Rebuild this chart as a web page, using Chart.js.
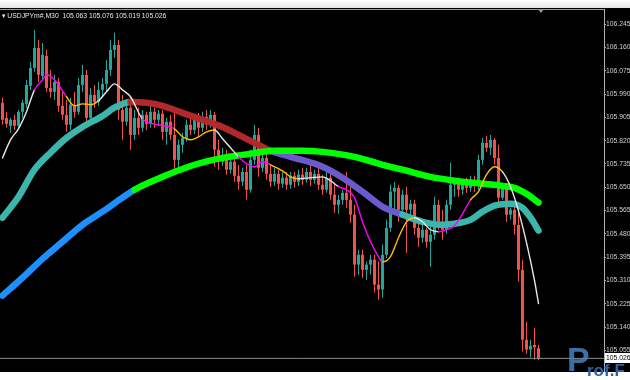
<!DOCTYPE html>
<html>
<head>
<meta charset="utf-8">
<script src="https://cdn.jsdelivr.net/npm/chart.js@4.4.0/dist/chart.umd.min.js"></script>
<style>
  html, body { margin:0; padding:0; background:#fff; }
  #wrap { position:relative; width:630px; height:380px; overflow:hidden; background:#fff; }
  #topbar { position:absolute; left:0; top:0; width:630px; height:8px; background:linear-gradient(#ffffff,#e4e4e4); }
  #black { position:absolute; left:0; top:8px; width:630px; height:364px; background:#000; }
  canvas { position:absolute; left:0; top:0; }
  #title { position:absolute; left:2px; top:12px; color:#e8e8e8; font:6.8px "Liberation Sans", "DejaVu Sans", sans-serif; white-space:pre; }
  #shift { position:absolute; left:538px; top:9px; width:0; height:0; border-left:3px solid transparent; border-right:3px solid transparent; border-top:4px solid #9a9a9a; }
  #wmP { position:absolute; left:567px; top:340px; color:rgba(70,130,195,0.85); font:bold 34px "Liberation Sans", sans-serif; }
  #wmT { position:absolute; left:587px; top:361px; color:#2d64a8; font:bold 17px "Liberation Sans", sans-serif; }
</style>
</head>
<body>
<div id="wrap">
  <div id="topbar"></div>
  <div id="black"></div>
  <canvas id="chart" width="630" height="380"></canvas>
  <div id="title">▾ USDJPYm#,M30  105.063 105.076 105.019 105.026</div>
  <div id="shift"></div>
  <div id="wmP">P</div>
  <div id="wmT">rof.F</div>
</div>
<script>
// M30 candles, oldest first
const opens = [105.958,105.903,105.874,105.896,105.874,105.925,105.954,106.020,106.085,106.158,
106.056,106.129,106.012,105.998,106.034,105.947,105.914,105.878,105.951,105.925,
106.023,106.060,105.903,105.987,105.961,106.005,106.027,106.078,106.151,106.169,
105.932,105.889,105.940,105.841,105.903,105.867,105.914,105.881,105.925,105.896,
105.918,105.852,105.889,105.841,105.750,105.805,105.830,105.878,105.859,105.896,
105.867,105.907,105.878,105.914,105.787,105.743,105.768,105.714,105.743,105.692,
105.670,105.706,105.641,105.750,105.841,105.721,105.757,105.699,105.670,105.699,
105.663,105.685,105.659,105.692,105.670,105.696,105.677,105.706,105.677,105.699,
105.659,105.641,105.685,105.623,105.586,105.604,105.630,105.604,105.550,105.368,
105.404,105.349,105.368,105.386,105.295,105.277,105.404,105.502,105.634,105.648,
105.568,105.623,105.568,105.590,105.502,105.466,105.495,105.451,105.477,105.586,
105.524,105.495,105.586,105.659,105.670,105.641,105.666,105.648,105.677,105.655,
105.750,105.812,105.794,105.823,105.757,105.612,105.648,105.550,105.568,105.513,
105.349,105.094,105.058,105.075,105.063];
const highs = [105.976,105.925,105.903,105.914,105.932,105.969,106.042,106.107,106.224,106.187,
106.176,106.151,106.078,106.060,106.049,105.998,105.969,105.976,105.998,106.049,
106.096,106.078,106.012,106.023,106.034,106.049,106.114,106.187,106.213,106.187,
105.987,105.969,105.976,105.932,105.940,105.932,105.925,105.951,105.940,105.932,
105.932,105.903,105.914,105.932,105.823,105.849,105.896,105.907,105.914,105.921,
105.925,105.932,105.932,105.925,105.823,105.794,105.787,105.757,105.757,105.732,
105.721,105.732,105.787,105.878,105.867,105.787,105.779,105.732,105.721,105.714,
105.706,105.706,105.706,105.706,105.714,105.721,105.721,105.732,105.714,105.725,
105.696,105.706,105.714,105.666,105.623,105.641,105.706,105.659,105.586,105.422,
105.422,105.379,105.404,105.404,105.379,105.441,105.532,105.659,105.670,105.659,
105.641,105.652,105.604,105.604,105.524,105.513,105.502,105.513,105.615,105.604,
105.568,105.604,105.739,105.685,105.685,105.677,105.685,105.692,105.692,105.768,
105.830,105.838,105.841,105.830,105.805,105.666,105.659,105.575,105.579,105.557,
105.386,105.160,105.094,105.138,105.076];
const lows = [105.878,105.867,105.849,105.859,105.867,105.903,105.940,106.005,106.071,106.034,
106.042,105.998,105.976,105.969,105.925,105.896,105.852,105.859,105.903,105.914,
105.998,105.878,105.881,105.940,105.947,105.976,105.998,106.056,106.122,105.896,
105.823,105.874,105.787,105.823,105.841,105.852,105.859,105.867,105.867,105.874,
105.823,105.805,105.823,105.703,105.721,105.776,105.816,105.841,105.845,105.834,
105.852,105.859,105.867,105.725,105.714,105.728,105.696,105.699,105.670,105.641,
105.655,105.604,105.630,105.732,105.688,105.706,105.677,105.652,105.655,105.641,
105.648,105.641,105.645,105.648,105.655,105.659,105.666,105.655,105.663,105.641,
105.623,105.630,105.604,105.557,105.553,105.586,105.575,105.521,105.324,105.331,
105.320,105.313,105.331,105.266,105.240,105.247,105.393,105.488,105.550,105.524,
105.553,105.411,105.539,105.477,105.433,105.448,105.430,105.360,105.459,105.495,
105.459,105.481,105.568,105.615,105.615,105.623,105.630,105.634,105.634,105.641,
105.732,105.779,105.768,105.732,105.586,105.604,105.524,105.532,105.477,105.306,
105.051,105.043,105.029,105.021,105.019];
const closes = [105.896,105.881,105.896,105.874,105.925,105.958,106.023,106.085,106.158,106.060,
106.133,106.012,105.998,106.034,105.947,105.914,105.878,105.951,105.925,106.023,
106.060,105.903,105.987,105.961,106.005,106.027,106.078,106.151,106.169,105.932,
105.889,105.940,105.841,105.903,105.867,105.914,105.881,105.925,105.896,105.918,
105.852,105.889,105.841,105.750,105.805,105.830,105.878,105.859,105.896,105.867,
105.907,105.878,105.914,105.787,105.743,105.768,105.714,105.743,105.692,105.670,
105.706,105.641,105.750,105.841,105.721,105.757,105.699,105.670,105.699,105.663,
105.685,105.659,105.692,105.670,105.696,105.677,105.706,105.677,105.699,105.659,
105.641,105.685,105.623,105.586,105.604,105.630,105.604,105.550,105.368,105.404,
105.349,105.368,105.386,105.295,105.277,105.404,105.502,105.634,105.648,105.568,
105.623,105.568,105.590,105.502,105.466,105.495,105.451,105.477,105.586,105.524,
105.495,105.586,105.659,105.670,105.641,105.666,105.648,105.677,105.655,105.750,
105.812,105.794,105.823,105.757,105.612,105.648,105.550,105.568,105.513,105.349,
105.094,105.058,105.072,105.066,105.026];

// moving averages at a few bars
const fastIdx = [0,2,4,6,8,10,11,13,16,18,20,22,24,26,28,30,32,35,39,43,45,47,49,51,53,55,57,59,61,63,65,67,70,72,74,77,80,82,84,86,88,90,92,94,95,97,99,101,103,105,107,109,111,113,115,117,119,121,123,125,127,129,131,133,134];
const fastVal = [105.757,105.823,105.863,105.925,106.005,106.042,106.060,106.042,105.980,105.947,105.954,105.951,105.965,105.998,106.027,106.005,105.980,105.899,105.878,105.863,105.834,105.823,105.834,105.852,105.859,105.827,105.794,105.761,105.736,105.725,105.743,105.732,105.710,105.688,105.681,105.685,105.688,105.674,105.652,105.641,105.612,105.524,105.451,105.397,105.378,105.397,105.466,105.524,105.539,105.524,105.495,105.488,105.495,105.510,105.553,105.604,105.634,105.696,105.725,105.706,105.652,105.564,105.448,105.310,105.226];
const midIdx = [0,4,8,12,16,20,25,28,32,36,40,45,50,55,60,65,67,72,80,85,90,95,100,105,110,113,117,120,123,127,130,132,134];
const midVal = [105.539,105.615,105.714,105.776,105.830,105.870,105.910,105.940,105.961,105.958,105.947,105.921,105.896,105.870,105.834,105.797,105.783,105.761,105.725,105.685,105.634,105.579,105.550,105.524,105.513,105.517,105.531,105.561,105.583,105.590,105.575,105.540,105.492];
const slowIdx = [0,5,10,15,20,25,30,33,40,48,55,60,68,75,80,88,95,100,107,113,120,125,128,131,134];
const slowVal = [105.255,105.320,105.389,105.451,105.513,105.561,105.612,105.641,105.688,105.732,105.757,105.768,105.783,105.783,105.779,105.761,105.732,105.714,105.688,105.674,105.663,105.655,105.648,105.626,105.594];

const bid = 105.026;
const tickValues = [106.245,106.160,106.075,105.990,105.905,105.820,105.735,105.650,105.565,105.480,105.395,105.310,105.225,105.140,105.055];

// colour changes along the averages: [from bar, colour]
const W = '#e6e6e6', M = '#ff00ff', Y = '#ffbf00';
const fastColors = [[0,W],[8,M],[16,Y],[24,W],[35,M],[43,Y],[53,W],[59,M],[67,Y],[74,W],[84,M],[95,Y],[103,W],[109,M],[117,Y],[125,W]];
const midColors = [[0,'#3cb6ac'],[32,'#b3292b'],[67,'#6a5acd'],[100,'#3cb6ac']];
const slowColors = [[0,'#1e8fff'],[33,'#00ff00']];

const bull = '#26a69a', bear = '#ef5350';

function pick(ranges, x) {
  let c = ranges[0][1];
  for (const r of ranges) if (x >= r[0]) c = r[1];
  return c;
}
const candleColor = ctx => closes[ctx.dataIndex] >= opens[ctx.dataIndex] ? bull : bear;

function maLine(idx, val, colors, width, order) {
  return {
    type: 'line',
    data: idx.map((x, k) => ({x: x, y: val[k]})),
    borderWidth: width,
    pointRadius: 0,
    cubicInterpolationMode: 'monotone',
    borderCapStyle: 'round',
    borderJoinStyle: 'round',
    segment: { borderColor: ctx => pick(colors, ctx.p0.parsed.x) },
    borderColor: colors[0][1],
    order: order
  };
}

const frame = {
  id: 'frame',
  beforeDatasetsDraw(chart) {
    const a = chart.chartArea, c = chart.ctx;
    c.save();
    c.strokeStyle = '#9a9a9a';
    c.lineWidth = 1;
    c.beginPath();
    c.moveTo(a.left, a.top + 0.5);
    c.lineTo(a.right, a.top + 0.5);
    c.stroke();
    c.restore();
  },
  afterDraw(chart) {
    const c = chart.ctx, y = Math.round(chart.scales.y.getPixelForValue(bid));
    const x = chart.chartArea.right + 1;
    c.save();
    c.fillStyle = '#ffffff';
    c.fillRect(x, y - 5, 26, 10);
    c.fillStyle = '#000000';
    c.font = '6.8px "Liberation Sans"';
    c.textBaseline = 'middle';
    c.fillText(bid.toFixed(3), x + 1, y + 0.5);
    c.restore();
  }
};

new Chart('chart', {
  type: 'bar',
  data: {
    datasets: [
      maLine(fastIdx, fastVal, fastColors, 1.4, 0),
      maLine(slowIdx, slowVal, slowColors, 6.5, 1),
      maLine(midIdx, midVal, midColors, 6.5, 2),
      {
        type: 'line',
        data: [{x: -1, y: bid}, {x: 151, y: bid}],
        borderColor: '#8a8a8a',
        borderWidth: 1,
        pointRadius: 0,
        order: 3
      },
      {
        data: opens.map((o, i) => ({x: i, y: [o, closes[i]]})),
        backgroundColor: candleColor,
        barThickness: 3,
        minBarLength: 1,
        grouped: false,
        inflateAmount: 0,
        order: 4
      },
      {
        data: lows.map((l, i) => ({x: i, y: [l, highs[i]]})),
        backgroundColor: candleColor,
        barThickness: 1,
        grouped: false,
        inflateAmount: 0,
        order: 5
      }
    ]
  },
  options: {
    responsive: false,
    devicePixelRatio: 1,
    animation: false,
    clip: false,
    layout: { padding: { top: 9, bottom: 9, left: 0, right: 0 } },
    plugins: { legend: { display: false }, tooltip: { enabled: false } },
    scales: {
      x: { type: 'linear', display: false, offset: false, min: -0.625, max: 150.375 },
      y: {
        position: 'right',
        min: 104.980,
        max: 106.300,
        afterBuildTicks: s => { s.ticks = tickValues.map(v => ({value: v})); },
        afterFit: s => { s.width = 26; },
        grid: { drawOnChartArea: false, drawTicks: true, tickLength: 2, color: '#b0b0b0' },
        border: { display: true, color: '#b0b0b0' },
        ticks: {
          color: '#cfcfcf',
          padding: 0,
          autoSkip: false,
          font: { family: 'Liberation Sans', size: 6.8 },
          callback: v => v.toFixed(3)
        }
      }
    }
  },
  plugins: [frame]
});
</script>
</body>
</html>
